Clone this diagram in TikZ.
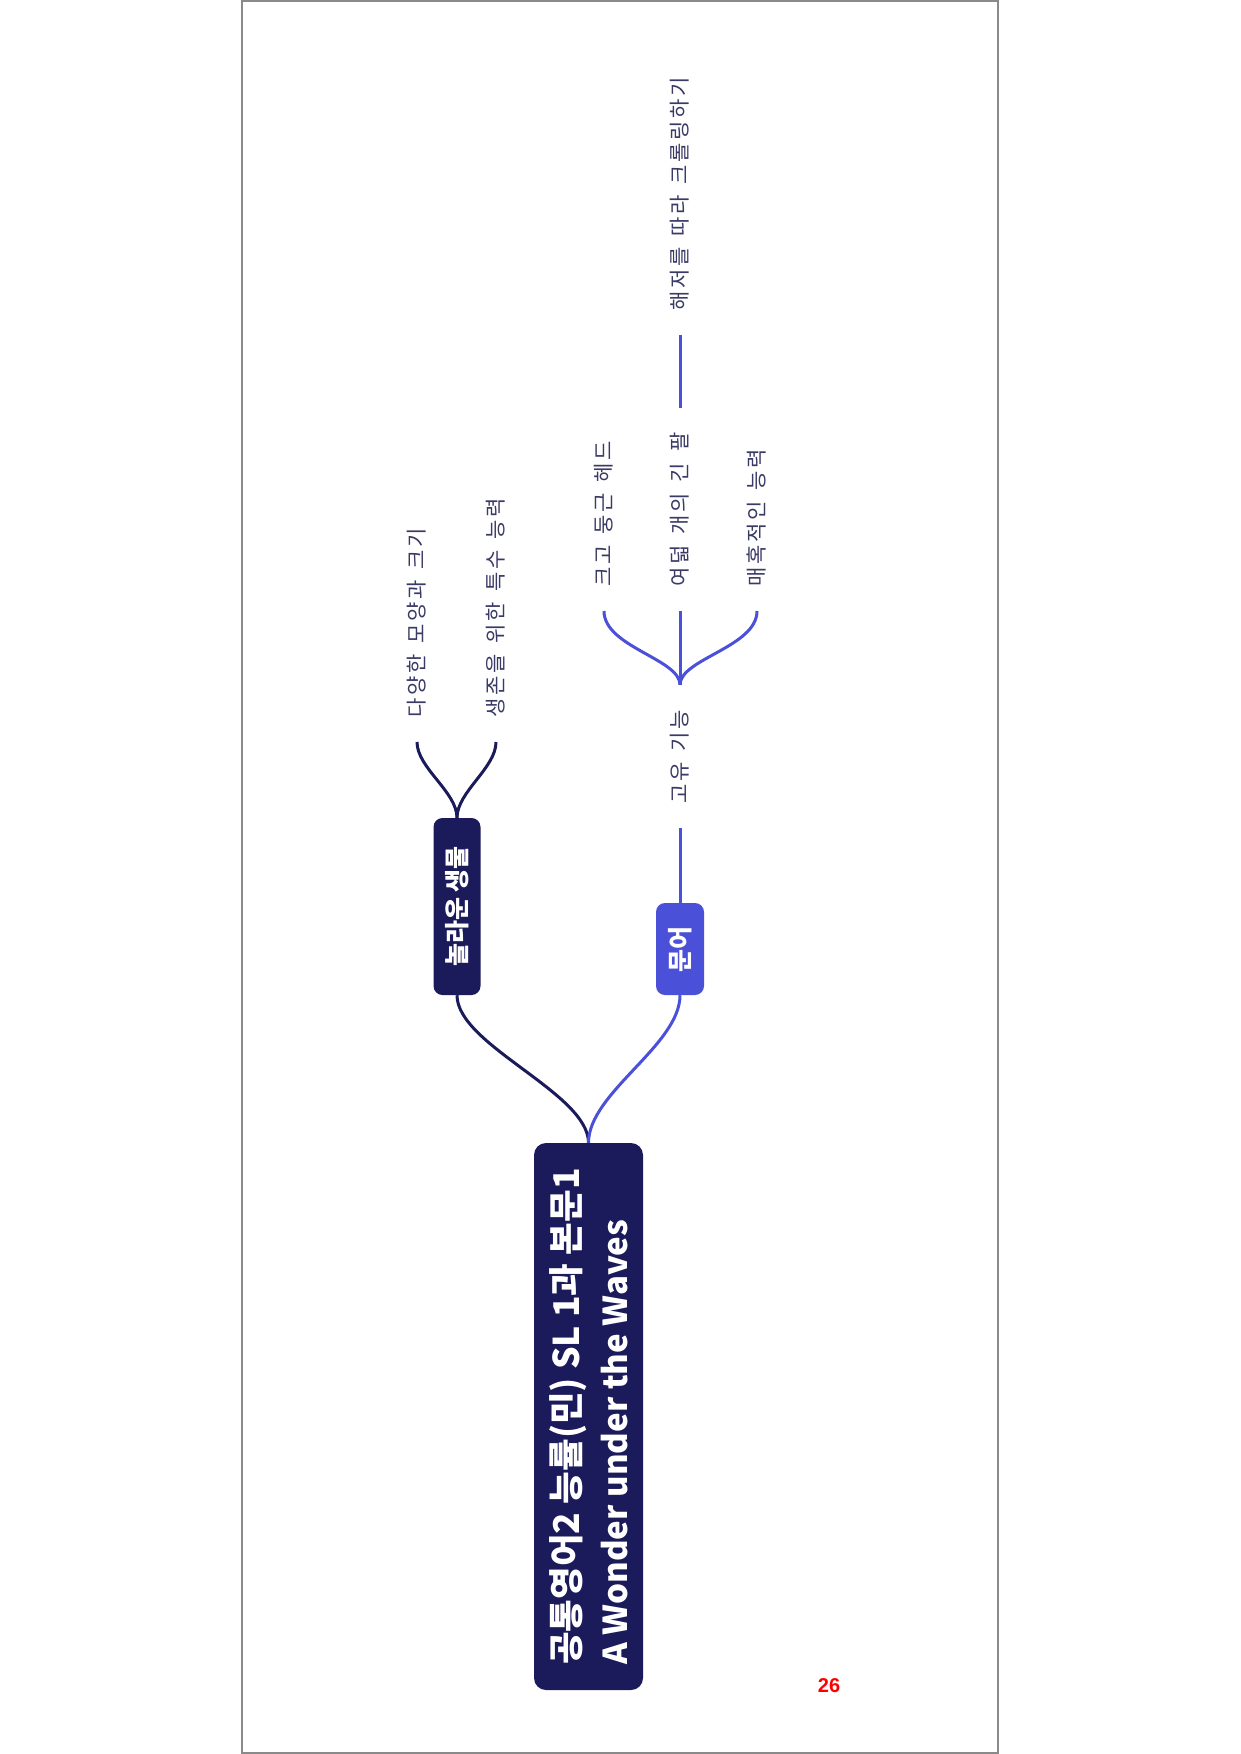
\documentclass[tikz,border=0pt]{standalone}
\usepackage{fontspec}
\setmainfont{Noto Sans CJK KR}
\newfontfamily\leaffont[LetterSpace=12,WordSpace=1.5]{Noto Sans CJK KR}
\newfontfamily\numfont{Liberation Sans}
\definecolor{navy}{HTML}{1B1A5B}
\definecolor{bluec}{HTML}{4B50D8}
\definecolor{leafc}{HTML}{3A3A66}
\definecolor{framec}{HTML}{8A8A8A}
\begin{document}
\begin{tikzpicture}[x=1pt,y=-1pt,
  navyline/.style={draw=navy, line width=3pt},
  blueline/.style={draw=bluec, line width=3pt},
  rootbox/.style={rotate=90, fill=navy, rounded corners=12pt, text=white, inner sep=0pt,
    align=left, font=\bfseries\fontsize{35.5}{48}\selectfont},
  topicbox/.style={rotate=90, rounded corners=9pt, text=white, inner sep=0pt,
    font=\bfseries\fontsize{25}{30}\selectfont},
  leaf/.style={rotate=90, anchor=west, inner sep=0pt, outer xsep=25pt, text=leafc,
    font=\leaffont\fontsize{21}{25}\selectfont},
]
\useasboundingbox (0,0) rectangle (1240,1754);
\draw[framec, line width=2pt] (242,1) rectangle (998,1753);

% root
\node[rootbox, minimum width=547pt, minimum height=109pt] (root) at (588.5,1416.5)
  {공통영어2 능률(민) SL 1과 본문1\\{\fontsize{33}{48}\selectfont A Wonder under the Waves}};

% main topics
\node[topicbox, fill=navy, minimum width=177pt, minimum height=47pt] (n1) at (457,906.5) {놀라운 생물};
\node[topicbox, fill=bluec, minimum width=92pt, minimum height=48pt] (n2) at (680,949) {문어};

\draw[navyline] (root.east) .. controls +(0,-50) and +(0,50) .. (n1.west);
\draw[blueline] (root.east) .. controls +(0,-50) and +(0,50) .. (n2.west);

% leaves of n1
\node[leaf] (l1) at (417,742) {다양한 모양과 크기};
\node[leaf] (l2) at (496,742) {생존을 위한 특수 능력};
\draw[navyline] (n1.east) .. controls +(0,-26) and +(0,26) .. (l1.west);
\draw[navyline] (n1.east) .. controls +(0,-26) and +(0,26) .. (l2.west);

% n2 branch
\node[leaf] (m1) at (680,828) {고유 기능};
\draw[blueline] (n2.east) -- (m1.west);

\node[leaf] (l3) at (604,611) {크고 둥근 헤드};
\node[leaf] (l4) at (680,611) {여덟 개의 긴 팔};
\node[leaf] (l5) at (757,611) {매혹적인 능력};
\draw[blueline] (m1.east) .. controls +(0,-26) and +(0,36) .. (l3.west);
\draw[blueline] (m1.east) -- (l4.west);
\draw[blueline] (m1.east) .. controls +(0,-26) and +(0,36) .. (l5.west);

\node[leaf] (l6) at (680,335) {해저를 따라 크롤링하기};
\draw[blueline] (l4.east) -- (l6.west);

% page number
\node[text=red, inner sep=0pt, font=\numfont\bfseries\fontsize{20}{24}\selectfont] (pg) at (829,1686) {26};
\end{tikzpicture}
\end{document}
